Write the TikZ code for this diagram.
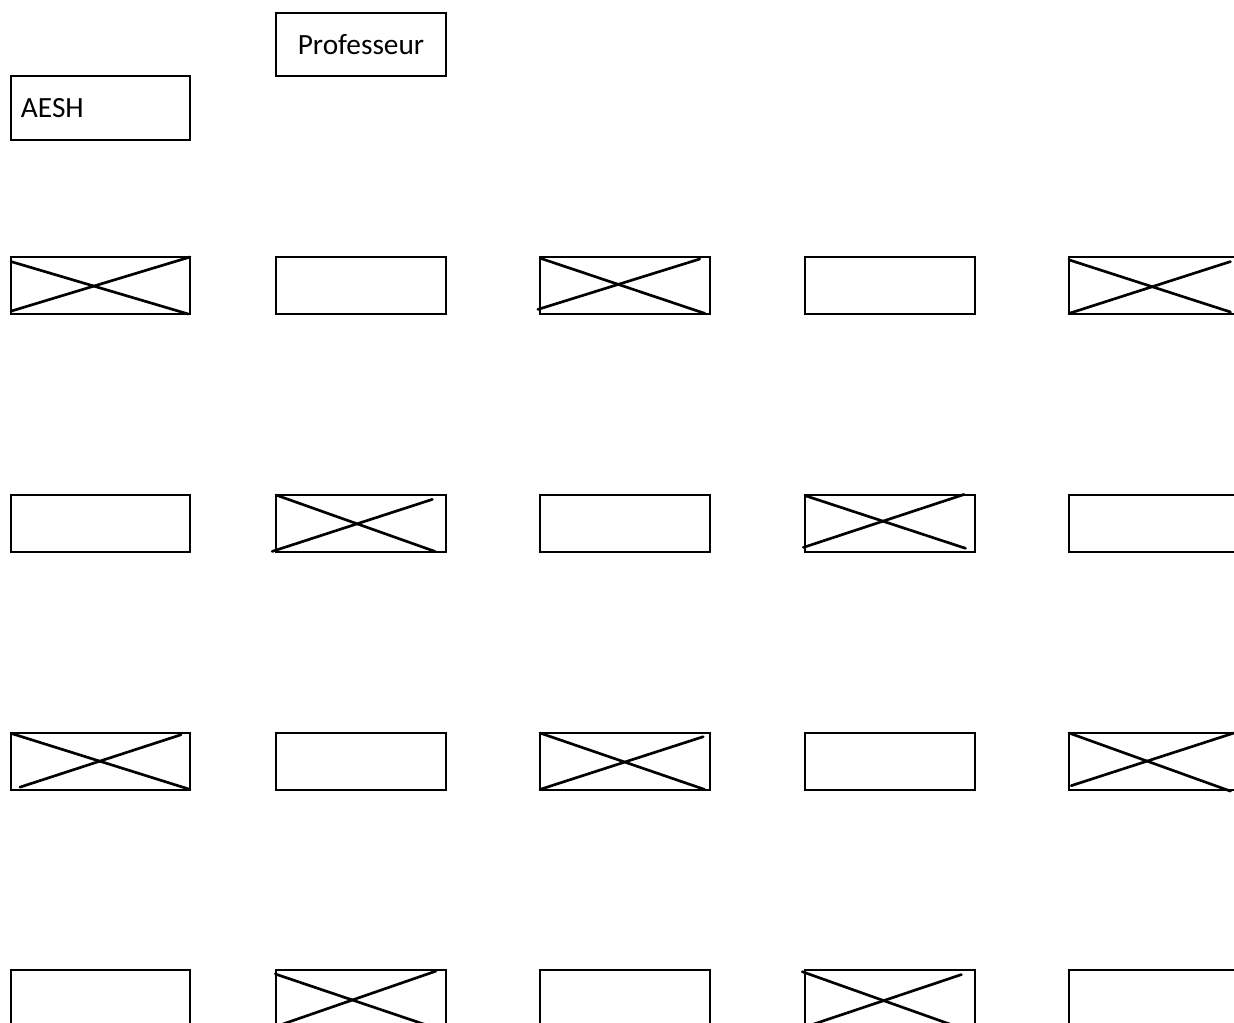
\documentclass[tikz,border=0pt]{standalone}
\usepackage{fontspec}
\setmainfont{Carlito}
\usetikzlibrary{calc}
\newcommand\seatcross[5]{%
  \draw[crossline] let \p1=(#1.north west), \p2=(#1.south east) in
    ({\x1+#2*(\x2-\x1)},{\y1+#3*(\y2-\y1)}) -- ({\x1+#4*(\x2-\x1)},{\y1+#5*(\y2-\y1)});}
\begin{document}
\begin{tikzpicture}[x=0.75pt,y=-0.75pt,
  seat/.style={draw, line width=1.5pt, inner sep=0pt, outer sep=0pt, anchor=north west,
               minimum height=42.75pt, minimum width=127.5pt},
  wide/.style={minimum width=134.25pt},
  lbl/.style={font=\fontsize{22}{26}\selectfont},
  crossline/.style={line width=2pt, line cap=round}]
\useasboundingbox (0,0) rectangle (1234,1022);
\clip (0,0) rectangle (1234,1022);

\node[seat, lbl, minimum height=47.25pt] (prof) at (276,13) {Professeur};
\node[seat, lbl, wide, minimum height=48pt, text width=119.25pt, align=left, inner xsep=7.5pt] (aesh) at (11,76) {AESH};

% row 1
\node[seat, wide] (r1c1) at (11,257) {};
\node[seat] (r1c2) at (276,257) {};
\node[seat] (r1c3) at (540,257) {};
\node[seat] (r1c4) at (805,257) {};
\node[seat] (r1c5) at (1069,257) {};
% row 2
\node[seat, wide] (r2c1) at (11,495) {};
\node[seat] (r2c2) at (276,495) {};
\node[seat] (r2c3) at (540,495) {};
\node[seat] (r2c4) at (805,495) {};
\node[seat] (r2c5) at (1069,495) {};
% row 3
\node[seat, wide] (r3c1) at (11,733) {};
\node[seat] (r3c2) at (276,733) {};
\node[seat] (r3c3) at (540,733) {};
\node[seat] (r3c4) at (805,733) {};
\node[seat] (r3c5) at (1069,733) {};
% row 4
\node[seat, wide] (r4c1) at (11,970) {};
\node[seat] (r4c2) at (276,970) {};
\node[seat] (r4c3) at (540,970) {};
\node[seat] (r4c4) at (805,970) {};
\node[seat] (r4c5) at (1069,970) {};

% crosses
\seatcross{r1c1}{0}{0.08}{0.99}{1}
\seatcross{r1c1}{0}{0.95}{1}{0}
\seatcross{r1c3}{0}{0.02}{0.97}{0.99}
\seatcross{r1c3}{-0.013}{0.92}{0.94}{0.035}
\seatcross{r1c5}{0}{0.05}{0.95}{0.965}
\seatcross{r1c5}{0}{0.99}{0.95}{0.08}

\seatcross{r2c2}{0}{0}{0.935}{0.99}
\seatcross{r2c2}{-0.023}{0.99}{0.92}{0.076}
\seatcross{r2c4}{0}{0.01}{0.944}{0.935}
\seatcross{r2c4}{-0.01}{0.92}{0.936}{-0.01}

\seatcross{r3c1}{0}{0.006}{1}{0.99}
\seatcross{r3c1}{0.05}{0.95}{0.95}{0.03}
\seatcross{r3c3}{0}{0}{0.968}{0.99}
\seatcross{r3c3}{0}{0.99}{0.96}{0.065}
\seatcross{r3c5}{0}{0}{0.95}{1.02}
\seatcross{r3c5}{0.013}{0.924}{0.97}{0}

\seatcross{r4c2}{-0.004}{0.07}{0.92}{1.0}
\seatcross{r4c2}{0.94}{0.02}{-0.01}{1.0}
\seatcross{r4c4}{-0.016}{0.03}{0.9}{1.0}
\seatcross{r4c4}{0.92}{0.08}{0}{1.0}
\end{tikzpicture}
\end{document}
